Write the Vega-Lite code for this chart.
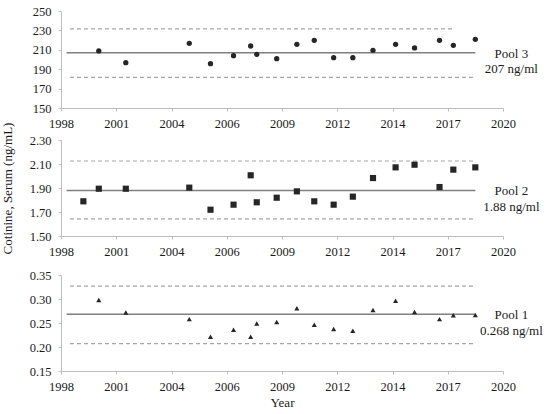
{
  "$schema": "https://vega.github.io/schema/vega-lite/v6.json",
  "padding": {"left": 1, "top": 5, "right": 5, "bottom": 5},
  "background": "white",
  "config": {
    "font": "Liberation Serif",
    "view": {"stroke": null}
  },
  "datasets": {
    "points": [
      {"pool": "Pool 3", "date": "2000-06-03", "value": 208.8},
      {"pool": "Pool 3", "date": "2001-10-05", "value": 196.7},
      {"pool": "Pool 3", "date": "2004-11-27", "value": 216.7},
      {"pool": "Pool 3", "date": "2005-12-16", "value": 195.7},
      {"pool": "Pool 3", "date": "2007-02-06", "value": 203.9},
      {"pool": "Pool 3", "date": "2007-12-13", "value": 213.9},
      {"pool": "Pool 3", "date": "2008-04-01", "value": 205.3},
      {"pool": "Pool 3", "date": "2009-03-28", "value": 200.9},
      {"pool": "Pool 3", "date": "2010-03-28", "value": 215.6},
      {"pool": "Pool 3", "date": "2011-02-06", "value": 219.8},
      {"pool": "Pool 3", "date": "2012-01-23", "value": 201.9},
      {"pool": "Pool 3", "date": "2013-01-04", "value": 201.9},
      {"pool": "Pool 3", "date": "2014-01-04", "value": 209.5},
      {"pool": "Pool 3", "date": "2015-02-17", "value": 215.6},
      {"pool": "Pool 3", "date": "2016-01-26", "value": 211.9},
      {"pool": "Pool 3", "date": "2017-04-22", "value": 219.8},
      {"pool": "Pool 3", "date": "2017-12-28", "value": 214.6},
      {"pool": "Pool 3", "date": "2019-01-30", "value": 220.8},
      {"pool": "Pool 2", "date": "1999-08-29", "value": 1.789},
      {"pool": "Pool 2", "date": "2000-06-03", "value": 1.894},
      {"pool": "Pool 2", "date": "2001-10-05", "value": 1.894},
      {"pool": "Pool 2", "date": "2004-11-27", "value": 1.903},
      {"pool": "Pool 2", "date": "2005-12-16", "value": 1.719},
      {"pool": "Pool 2", "date": "2007-02-06", "value": 1.761},
      {"pool": "Pool 2", "date": "2007-12-13", "value": 2.006},
      {"pool": "Pool 2", "date": "2008-04-01", "value": 1.781},
      {"pool": "Pool 2", "date": "2009-03-28", "value": 1.819},
      {"pool": "Pool 2", "date": "2010-03-28", "value": 1.872},
      {"pool": "Pool 2", "date": "2011-02-06", "value": 1.789},
      {"pool": "Pool 2", "date": "2012-01-23", "value": 1.761},
      {"pool": "Pool 2", "date": "2013-01-04", "value": 1.828},
      {"pool": "Pool 2", "date": "2014-01-04", "value": 1.983},
      {"pool": "Pool 2", "date": "2015-02-17", "value": 2.072},
      {"pool": "Pool 2", "date": "2016-01-26", "value": 2.094},
      {"pool": "Pool 2", "date": "2017-04-22", "value": 1.908},
      {"pool": "Pool 2", "date": "2017-12-28", "value": 2.053},
      {"pool": "Pool 2", "date": "2019-01-30", "value": 2.072},
      {"pool": "Pool 1", "date": "2000-06-03", "value": 0.298},
      {"pool": "Pool 1", "date": "2001-10-05", "value": 0.272},
      {"pool": "Pool 1", "date": "2004-11-27", "value": 0.258},
      {"pool": "Pool 1", "date": "2005-12-16", "value": 0.2215},
      {"pool": "Pool 1", "date": "2007-02-06", "value": 0.236},
      {"pool": "Pool 1", "date": "2007-12-13", "value": 0.2215},
      {"pool": "Pool 1", "date": "2008-04-01", "value": 0.249},
      {"pool": "Pool 1", "date": "2009-03-28", "value": 0.252},
      {"pool": "Pool 1", "date": "2010-03-28", "value": 0.2806},
      {"pool": "Pool 1", "date": "2011-02-06", "value": 0.2465},
      {"pool": "Pool 1", "date": "2012-01-23", "value": 0.2375},
      {"pool": "Pool 1", "date": "2013-01-04", "value": 0.234},
      {"pool": "Pool 1", "date": "2014-01-04", "value": 0.277},
      {"pool": "Pool 1", "date": "2015-02-17", "value": 0.2965},
      {"pool": "Pool 1", "date": "2016-01-26", "value": 0.273},
      {"pool": "Pool 1", "date": "2017-04-22", "value": 0.258},
      {"pool": "Pool 1", "date": "2017-12-28", "value": 0.266},
      {"pool": "Pool 1", "date": "2019-01-30", "value": 0.2667}
    ],
    "refs": [
      {"pool": "Pool 3", "kind": "mean", "value": 207, "start": "1998-10-29", "end": "2019-01-31", "label": "Pool 3\n207 ng/ml"},
      {"pool": "Pool 3", "kind": "upper", "value": 231.5, "start": "1998-12-30", "end": "2018-01-03", "label": ""},
      {"pool": "Pool 3", "kind": "lower", "value": 181.6, "start": "1998-12-30", "end": "2019-01-31", "label": ""},
      {"pool": "Pool 2", "kind": "mean", "value": 1.88, "start": "1998-10-29", "end": "2019-01-31", "label": "Pool 2\n1.88 ng/ml"},
      {"pool": "Pool 2", "kind": "upper", "value": 2.125, "start": "1998-12-30", "end": "2019-01-31", "label": ""},
      {"pool": "Pool 2", "kind": "lower", "value": 1.642, "start": "1998-12-30", "end": "2019-01-31", "label": ""},
      {"pool": "Pool 1", "kind": "mean", "value": 0.268, "start": "1998-10-29", "end": "2019-01-31", "label": "Pool 1\n0.268 ng/ml"},
      {"pool": "Pool 1", "kind": "upper", "value": 0.327, "start": "1998-12-30", "end": "2019-01-31", "label": ""},
      {"pool": "Pool 1", "kind": "lower", "value": 0.207, "start": "1998-12-30", "end": "2019-01-31", "label": ""}
    ]
  },
  "bounds": "flush",
  "spacing": 32,
  "resolve": {"scale": {"x": "independent", "y": "independent"}},
  "vconcat": [
    {
      "width": 442, "height": 97,
      "layer": [
        {
          "data": {"name": "refs"},
          "transform": [{"filter": "datum.pool === 'Pool 3' && datum.kind !== 'mean'"}],
          "mark": {"type": "rule", "color": "#a6a6a6", "strokeWidth": 1.2, "strokeDash": [4, 3]},
          "encoding": {
            "x": {"field": "start", "type": "temporal", "scale": {"type": "utc", "domain": [{"year": 1998, "month": 7, "date": 20, "utc": true}, {"year": 2020, "month": 6, "date": 14, "utc": true}]},
                  "axis": {"title": null, "labelExpr": "utcFormat(datum.value, '%Y')", "labelFont": "Liberation Serif", "labelFontSize": 12.5, "labelColor": "#1a1a1a", "labelOverlap": false, "labelFlush": false, "labelPadding": 6, "domainColor": "#bfbfbf", "tickColor": "#bfbfbf", "tickSize": 3, "tickCount": 20, "grid": false, "values": [
                    {"year": 1998, "month": 7, "date": 20, "utc": true}, {"year": 2001, "month": 4, "date": 15, "utc": true},
                    {"year": 2004, "month": 1, "date": 10, "utc": true}, {"year": 2006, "month": 10, "date": 6, "utc": true},
                    {"year": 2009, "month": 7, "date": 2, "utc": true}, {"year": 2012, "month": 3, "date": 28, "utc": true},
                    {"year": 2014, "month": 12, "date": 23, "utc": true}, {"year": 2017, "month": 9, "date": 18, "utc": true},
                    {"year": 2020, "month": 6, "date": 14, "utc": true}]}},
            "x2": {"field": "end"},
            "y": {"field": "value", "type": "quantitative", "scale": {"domain": [150, 250], "nice": false, "zero": false},
                  "axis": {"title": null, "values": [150, 170, 190, 210, 230, 250], "tickCount": 20, "format": "d", "labelFont": "Liberation Serif", "labelFontSize": 12.5, "labelColor": "#1a1a1a", "labelOverlap": false, "labelFlush": false, "labelPadding": 7, "domainColor": "#bfbfbf", "tickColor": "#bfbfbf", "tickSize": 3, "grid": false}}
          }
        },
        {
          "data": {"name": "refs"},
          "transform": [{"filter": "datum.pool === 'Pool 3' && datum.kind === 'mean'"}],
          "mark": {"type": "rule", "color": "#808080", "strokeWidth": 1.5},
          "encoding": {
            "x": {"field": "start", "type": "temporal"},
            "x2": {"field": "end"},
            "y": {"field": "value", "type": "quantitative"}
          }
        },
        {
          "data": {"name": "points"},
          "transform": [{"filter": "datum.pool === 'Pool 3'"}],
          "mark": {"type": "point", "shape": "circle", "filled": true, "size": 28, "color": "#262626", "opacity": 1},
          "encoding": {
            "x": {"field": "date", "type": "temporal"},
            "y": {"field": "value", "type": "quantitative"}
          }
        },
        {
          "data": {"name": "refs"},
          "transform": [{"filter": "datum.pool === 'Pool 3' && datum.kind === 'mean'"}],
          "mark": {"type": "text", "align": "center", "baseline": "middle", "dx": 36, "dy": 1, "font": "Liberation Serif", "fontSize": 13, "lineHeight": 15.5, "lineBreak": "\n", "color": "#1a1a1a"},
          "encoding": {
            "x": {"field": "end", "type": "temporal"},
            "y": {"field": "value", "type": "quantitative"},
            "text": {"field": "label", "type": "nominal"}
          }
        }
      ]
    },
    {
      "bounds": "flush",
      "spacing": 39,
      "resolve": {"scale": {"x": "independent", "y": "independent"}},
      "vconcat": [
        {
          "width": 442, "height": 96,
          "layer": [
            {
              "data": {"name": "refs"},
              "transform": [{"filter": "datum.pool === 'Pool 2' && datum.kind !== 'mean'"}],
              "mark": {"type": "rule", "color": "#a6a6a6", "strokeWidth": 1.2, "strokeDash": [4, 3]},
              "encoding": {
                "x": {"field": "start", "type": "temporal", "scale": {"type": "utc", "domain": [{"year": 1998, "month": 7, "date": 20, "utc": true}, {"year": 2020, "month": 6, "date": 14, "utc": true}]},
                      "axis": {"title": null, "labelExpr": "utcFormat(datum.value, '%Y')", "labelFont": "Liberation Serif", "labelFontSize": 12.5, "labelColor": "#1a1a1a", "labelOverlap": false, "labelFlush": false, "labelPadding": 6, "domainColor": "#bfbfbf", "tickColor": "#bfbfbf", "tickSize": 3, "tickCount": 20, "grid": false, "values": [
                        {"year": 1998, "month": 7, "date": 20, "utc": true}, {"year": 2001, "month": 4, "date": 15, "utc": true},
                        {"year": 2004, "month": 1, "date": 10, "utc": true}, {"year": 2006, "month": 10, "date": 6, "utc": true},
                        {"year": 2009, "month": 7, "date": 2, "utc": true}, {"year": 2012, "month": 3, "date": 28, "utc": true},
                        {"year": 2014, "month": 12, "date": 23, "utc": true}, {"year": 2017, "month": 9, "date": 18, "utc": true},
                        {"year": 2020, "month": 6, "date": 14, "utc": true}]}},
                "x2": {"field": "end"},
                "y": {"field": "value", "type": "quantitative", "scale": {"domain": [1.5, 2.3], "nice": false, "zero": false},
                      "axis": {"title": "Cotinine, Serum (ng/mL)", "titleFont": "Liberation Serif", "titleFontSize": 13, "titleFontWeight": "normal", "titleColor": "#1a1a1a", "titlePadding": 15, "values": [1.5, 1.7, 1.9, 2.1, 2.3], "tickCount": 20, "format": ".2f", "labelFont": "Liberation Serif", "labelFontSize": 12.5, "labelColor": "#1a1a1a", "labelOverlap": false, "labelFlush": false, "labelPadding": 7, "domainColor": "#bfbfbf", "tickColor": "#bfbfbf", "tickSize": 3, "grid": false}}
              }
            },
            {
              "data": {"name": "refs"},
              "transform": [{"filter": "datum.pool === 'Pool 2' && datum.kind === 'mean'"}],
              "mark": {"type": "rule", "color": "#808080", "strokeWidth": 1.5},
              "encoding": {
                "x": {"field": "start", "type": "temporal"},
                "x2": {"field": "end"},
                "y": {"field": "value", "type": "quantitative"}
              }
            },
            {
              "data": {"name": "points"},
              "transform": [{"filter": "datum.pool === 'Pool 2'"}],
              "mark": {"type": "point", "shape": "square", "filled": true, "size": 38, "color": "#262626", "opacity": 1},
              "encoding": {
                "x": {"field": "date", "type": "temporal"},
                "y": {"field": "value", "type": "quantitative"}
              }
            },
            {
              "data": {"name": "refs"},
              "transform": [{"filter": "datum.pool === 'Pool 2' && datum.kind === 'mean'"}],
              "mark": {"type": "text", "align": "center", "baseline": "middle", "dx": 36, "dy": 1, "font": "Liberation Serif", "fontSize": 13, "lineHeight": 15.5, "lineBreak": "\n", "color": "#1a1a1a"},
              "encoding": {
                "x": {"field": "end", "type": "temporal"},
                "y": {"field": "value", "type": "quantitative"},
                "text": {"field": "label", "type": "nominal"}
              }
            }
          ]
        },
        {
          "width": 442, "height": 96,
          "layer": [
            {
              "data": {"name": "refs"},
              "transform": [{"filter": "datum.pool === 'Pool 1' && datum.kind !== 'mean'"}],
              "mark": {"type": "rule", "color": "#a6a6a6", "strokeWidth": 1.2, "strokeDash": [4, 3]},
              "encoding": {
                "x": {"field": "start", "type": "temporal", "scale": {"type": "utc", "domain": [{"year": 1998, "month": 7, "date": 20, "utc": true}, {"year": 2020, "month": 6, "date": 14, "utc": true}]},
                      "axis": {"title": "Year", "titleFont": "Liberation Serif", "titleFontSize": 13, "titleFontWeight": "normal", "titleColor": "#1a1a1a", "titlePadding": 4, "labelExpr": "utcFormat(datum.value, '%Y')", "labelFont": "Liberation Serif", "labelFontSize": 12.5, "labelColor": "#1a1a1a", "labelOverlap": false, "labelFlush": false, "labelPadding": 6, "domainColor": "#bfbfbf", "tickColor": "#bfbfbf", "tickSize": 3, "tickCount": 20, "grid": false, "values": [
                        {"year": 1998, "month": 7, "date": 20, "utc": true}, {"year": 2001, "month": 4, "date": 15, "utc": true},
                        {"year": 2004, "month": 1, "date": 10, "utc": true}, {"year": 2006, "month": 10, "date": 6, "utc": true},
                        {"year": 2009, "month": 7, "date": 2, "utc": true}, {"year": 2012, "month": 3, "date": 28, "utc": true},
                        {"year": 2014, "month": 12, "date": 23, "utc": true}, {"year": 2017, "month": 9, "date": 18, "utc": true},
                        {"year": 2020, "month": 6, "date": 14, "utc": true}]}},
                "x2": {"field": "end"},
                "y": {"field": "value", "type": "quantitative", "scale": {"domain": [0.15, 0.35], "nice": false, "zero": false},
                      "axis": {"title": null, "values": [0.15, 0.2, 0.25, 0.3, 0.35], "tickCount": 20, "format": ".2f", "labelFont": "Liberation Serif", "labelFontSize": 12.5, "labelColor": "#1a1a1a", "labelOverlap": false, "labelFlush": false, "labelPadding": 7, "domainColor": "#bfbfbf", "tickColor": "#bfbfbf", "tickSize": 3, "grid": false}}
              }
            },
            {
              "data": {"name": "refs"},
              "transform": [{"filter": "datum.pool === 'Pool 1' && datum.kind === 'mean'"}],
              "mark": {"type": "rule", "color": "#808080", "strokeWidth": 1.5},
              "encoding": {
                "x": {"field": "start", "type": "temporal"},
                "x2": {"field": "end"},
                "y": {"field": "value", "type": "quantitative"}
              }
            },
            {
              "data": {"name": "points"},
              "transform": [{"filter": "datum.pool === 'Pool 1'"}],
              "mark": {"type": "point", "shape": "triangle-up", "filled": true, "size": 26, "color": "#262626", "opacity": 1},
              "encoding": {
                "x": {"field": "date", "type": "temporal"},
                "y": {"field": "value", "type": "quantitative"}
              }
            },
            {
              "data": {"name": "refs"},
              "transform": [{"filter": "datum.pool === 'Pool 1' && datum.kind === 'mean'"}],
              "mark": {"type": "text", "align": "center", "baseline": "middle", "dx": 36, "dy": 1, "font": "Liberation Serif", "fontSize": 13, "lineHeight": 15.5, "lineBreak": "\n", "color": "#1a1a1a"},
              "encoding": {
                "x": {"field": "end", "type": "temporal"},
                "y": {"field": "value", "type": "quantitative"},
                "text": {"field": "label", "type": "nominal"}
              }
            }
          ]
        }
      ]
    }
  ]
}
